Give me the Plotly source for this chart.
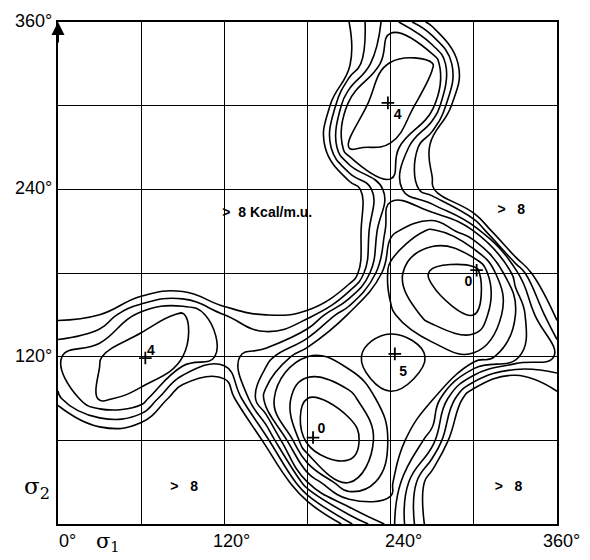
import plotly.graph_objects as go

# grid of torsion angles (degrees)
sigma1 = [0, 30, 60, 90, 120, 150, 180, 210, 240, 270, 300, 330, 360]
sigma2 = [0, 30, 60, 90, 120, 150, 180, 210, 240, 270, 300, 330, 360]

# energy (kcal/m.u.) read at each grid node, rows = sigma2 (0..360), cols = sigma1 (0..360)
energy = [
    [12, 12, 12, 12, 12, 12, 11.5, 7.2, 4.6, 8.8, 12, 12, 12],
    [12, 12, 12, 12, 12, 12, 5.0, 1.8, 3.7, 9.0, 12, 12, 12],
    [12, 9.5, 10, 12, 12, 7.5, 0.6, 0.3, 3.2, 5.5, 12, 12, 12],
    [7.2, 4.85, 5.3, 9.5, 9.5, 3.5, 1.0, 1.6, 3.8, 3.9, 9.5, 12, 8.4],
    [6.1, 5.05, 4.2, 5.0, 6.3, 5.5, 3.0, 3.6, 4.95, 3.8, 3.2, 4.8, 6.1],
    [8.3, 8.0, 5.6, 4.85, 7.0, 8.0, 7.5, 3.8, 3.2, 1.5, 1.0, 4.0, 8.3],
    [12, 12, 11, 10.5, 12, 12, 12, 9.5, 2.5, 0.8, 0.3, 5.5, 12],
    [12, 12, 12, 12, 12, 12, 12, 9.5, 4.3, 2.7, 5.0, 12, 12],
    [12, 12, 12, 12, 12, 12, 12, 9.0, 5.3, 7.8, 12, 12, 12],
    [12, 12, 12, 12, 12, 12, 11, 3.95, 4.1, 8.5, 12, 12, 12],
    [12, 12, 12, 12, 12, 12, 12, 4.6, 3.2, 4.6, 12, 12, 12],
    [12, 12, 12, 12, 12, 12, 12, 8.2, 3.9, 3.9, 10.5, 12, 12],
    [12, 12, 12, 12, 12, 12, 12, 8.0, 5.4, 8.5, 12, 12, 12],
]

# stationary points: markers and their energy labels
min_x = [238, 63, 243, 302, 184]
min_y = [302, 119, 122, 182, 62]
min_lab = ["4", "4", "5", "0", "0"]
lab_x = [245, 67, 249, 296, 190]
lab_y = [293, 124, 109, 173, 68]

# high-energy region labels
high_x = [151, 327, 91, 325]
high_y = [223, 225, 26, 26]
high_txt = ["&gt;&nbsp;&nbsp;8 Kcal/m.u.", "&gt;&nbsp;&nbsp;&nbsp;8", "&gt;&nbsp;&nbsp;&nbsp;8", "&gt;&nbsp;&nbsp;&nbsp;8"]

tick_vals = [0, 120, 240, 360]
tick_txt = ["0°", "120°", "240°", "360°"]

fig = go.Figure()
fig.add_trace(go.Contour(
    x=sigma1, y=sigma2, z=energy,
    contours=dict(start=1, end=8, size=1, coloring="lines"),
    colorscale=[[0, "black"], [1, "black"]],
    line=dict(width=1.6, smoothing=1.3),
    showscale=False, hoverinfo="skip",
))
fig.add_trace(go.Scatter(
    x=min_x, y=min_y, mode="markers",
    marker=dict(symbol="cross-thin", size=9, line=dict(color="black", width=1.8)),
    showlegend=False, hoverinfo="skip",
))
fig.add_trace(go.Scatter(
    x=lab_x, y=lab_y, mode="text", text=["<b>%s</b>" % t for t in min_lab],
    textfont=dict(family="Liberation Sans", size=14, color="black"),
    showlegend=False, hoverinfo="skip",
))
fig.add_trace(go.Scatter(
    x=high_x, y=high_y, mode="text", text=["<b>%s</b>" % t for t in high_txt],
    textfont=dict(family="Liberation Sans", size=14, color="black"),
    showlegend=False, hoverinfo="skip",
))

ann = []
xlab_shift = [9, 7, 13, 4]
for v, t, s in zip(tick_vals, tick_txt, xlab_shift):
    ann.append(dict(x=v, y=0, xref="x", yref="y", text=t, showarrow=False,
                    xanchor="center", yanchor="top", xshift=s, yshift=-5,
                    font=dict(family="Liberation Sans", size=18, color="black")))
for v, t in zip(tick_vals[1:], tick_txt[1:]):
    ann.append(dict(x=0, y=v, xref="x", yref="y", text=t, showarrow=False,
                    xanchor="right", yanchor="middle", xshift=-4, yshift=1,
                    font=dict(family="Liberation Sans", size=18, color="black")))
ann.append(dict(x=0, y=0, xref="x", yref="y", text="σ<sub>2</sub>", showarrow=False,
                xanchor="right", yanchor="middle", xshift=-6, yshift=36,
                font=dict(family="DejaVu Serif", size=23, color="black")))
ann.append(dict(x=0, y=0, xref="x", yref="y", text="σ<sub>1</sub>", showarrow=False,
                xanchor="left", yanchor="top", xshift=36, yshift=-3,
                font=dict(family="DejaVu Serif", size=21, color="black")))
# axis arrows
ann.append(dict(x=0, y=360, xref="x", yref="y", ax=0, ay=22,
                text="", showarrow=True, arrowhead=2, arrowsize=1.3, arrowwidth=2, arrowcolor="black"))
ann.append(dict(x=376, y=0, xref="x", yref="y", ax=-24, ay=0,
                text="", showarrow=True, arrowhead=2, arrowsize=1.3, arrowwidth=2, arrowcolor="black"))

fig.update_layout(
    width=582, height=552,
    margin=dict(l=50, r=33, t=14, b=36),
    paper_bgcolor="white", plot_bgcolor="white",
    showlegend=False, annotations=ann,
)
fig.update_xaxes(range=[0, 360], dtick=60, tick0=0, showgrid=True, gridcolor="black", gridwidth=1,
                 showticklabels=False, ticks="", zeroline=False,
                 showline=True, linecolor="black", linewidth=2, mirror=True)
fig.update_yaxes(range=[0, 360], dtick=60, tick0=0, showgrid=True, gridcolor="black", gridwidth=1,
                 showticklabels=False, ticks="", zeroline=False,
                 showline=True, linecolor="black", linewidth=2, mirror=True)

fig.write_html("out.html")
